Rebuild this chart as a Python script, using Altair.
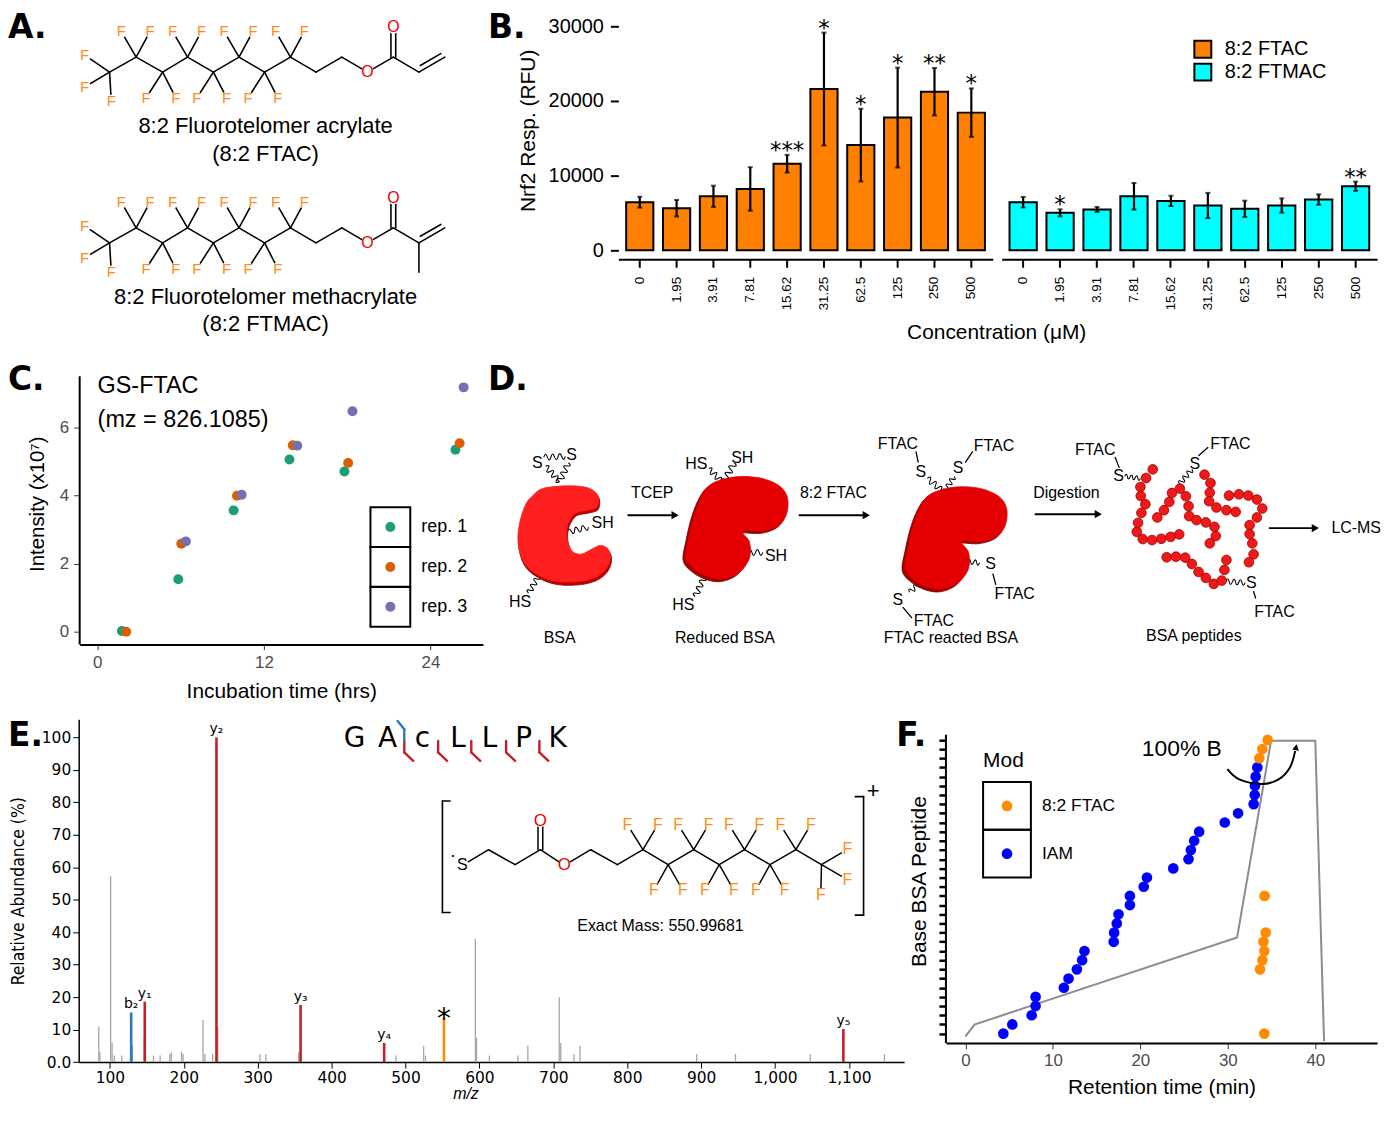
import math
import altair as alt
import pandas as pd

SANS = "Liberation Sans, Arial, Helvetica, sans-serif"
DV = "DejaVu Sans, Verdana, sans-serif"
NARROW = "Liberation Sans Narrow, DejaVu Sans Condensed, sans-serif"
F_OR = "#FF8C1A"
O_RED = "#EE0000"

# ======================= DATA =======================
# ---- Panel B : Nrf2 response ----
conc_labels = ["0", "1.95", "3.91", "7.81", "15.62", "31.25", "62.5", "125", "250", "500"]
ftac_mean = [6440, 5640, 7240, 8220, 11600, 21600, 14090, 17780, 21240, 18440]
ftac_sd = [730, 1110, 1420, 2910, 1180, 7560, 4870, 6690, 3180, 3240]
ftac_sig = ["", "", "", "", "***", "*", "*", "*", "**", "*"]
ftmac_mean = [6440, 5020, 5470, 7240, 6620, 6000, 5560, 6000, 6800, 8580]
ftmac_sd = [710, 470, 330, 1780, 690, 1690, 1090, 960, 690, 620]
ftmac_sig = ["", "*", "", "", "", "", "", "", "", "**"]
series_names = ["8:2 FTAC", "8:2 FTMAC"]
series_colors = ["#FF8000", "#00FFFF"]

# ---- Panel C : GS-FTAC intensity ----
rep_names = ["rep. 1", "rep. 2", "rep. 3"]
rep_colors = ["#1B9E77", "#D95F02", "#7570B3"]
rep1_t = [1.77, 5.83, 9.82, 13.84, 17.80, 25.80]
rep1_i = [0.02, 1.54, 3.56, 5.05, 4.70, 5.34]
rep2_t = [2.08, 6.05, 10.06, 14.08, 18.07, 26.10]
rep2_i = [0.00, 2.58, 3.99, 5.47, 4.95, 5.53]
rep3_t = [6.38, 10.40, 14.40, 18.38, 26.39]
rep3_i = [2.65, 4.02, 5.46, 6.47, 7.17]

# ---- Panel E : MS/MS spectrum ----
grey_mz = [85, 86.5, 101, 103, 106, 116, 130.5, 146.5, 159, 168, 181, 183, 197, 199, 226, 228.5,
           239, 246, 303, 311, 355.5, 487, 524.5, 527, 594.5, 596, 613.5, 652, 665.5, 708, 710,
           728, 736, 894, 946.5, 1047.5, 1148]
grey_int = [11, 3, 57.3, 6, 2, 2, 5, 7.5, 2, 2, 2.5, 3, 3.3, 2.5, 13, 2.5,
            2.5, 11, 2.5, 2.5, 3, 2, 5, 2, 38, 7.5, 2, 2, 5, 20, 6,
            2.5, 5, 2.5, 2.5, 2.5, 2.5]
ann_mz = [128.8, 147.2, 244.2, 358.0, 471.1, 552.0, 1092.4]
ann_int = [15.3, 18.6, 100.0, 17.6, 5.9, 13.8, 10.2]
ann_lab = ["b₂", "y₁", "y₂", "y₃", "y₄", "*", "y₅"]
ann_kind = ["b", "y", "y", "y", "y", "mod", "y"]

# ---- Panel F : retention times ----
iam_rt = [4.33, 5.36, 7.57, 8.02, 8.02, 11.25, 11.79, 12.74, 13.34, 13.61, 16.95, 17.0, 17.3, 17.5,
          18.8, 18.8, 20.38, 20.75, 23.76, 25.5, 25.77, 26.15, 26.72, 29.65, 31.17, 32.95, 33.07,
          33.1, 33.18, 33.37]
iam_row = [0, 1, 2, 3, 4, 5, 6, 7, 8, 9, 10, 11, 12, 13, 14, 15, 16, 17, 18, 19, 20, 21, 22, 23,
           24, 25, 26, 27, 28, 29]
ftac_rt = [34.17, 33.68, 33.95, 34.17, 34.07, 34.33, 34.2, 33.6, 33.95, 34.55]
ftac_row = [0, 7, 8, 9, 10, 11, 15, 30, 31, 32]
grad_t = [0, 1.03, 31.06, 34.94, 40.0, 41.0]
grad_v = [-0.3, 0.98, 10.48, 31.9, 31.9, -0.83]
arc_t = [29.95, 31.3, 33.9, 35.8, 37.1, 37.7]
arc_v = [28.8, 27.7, 27.2, 27.7, 29.0, 30.8]
mods = ["8:2 FTAC", "IAM"]
mod_colors = ["#FF8C00", "#0000FF"]

# ---- Panel A : structures (page-pixel diagram coordinates) ----
chain_x = [110, 136.7, 163.3, 188.3, 214.3, 240, 265.7, 291.7, 317.3, 343.3, 369, 395, 420.7, 446.7]
ftac_chain_y = [70, 55, 70, 55, 70, 55, 70, 55, 70, 55, 70, 55, 70, 55]
ftmac_chain_y = [241.5, 226.5, 241.5, 226.5, 241.5, 226.5, 241.5, 226.5, 241.5, 226.5, 241.5,
                 226.5, 241.5, 226.5]
ftac_carbonyl_o = 25
ftmac_carbonyl_o = 196.5
ftmac_methyl_end = 271
a_names = [("8:2 Fluorotelomer acrylate", 266.7, 124), ("(8:2 FTAC)", 266.7, 152),
           ("8:2 Fluorotelomer methacrylate", 266.7, 296), ("(8:2 FTMAC)", 266.7, 323)]

# ---- Panel E inset structure ----
ins_x = [464.3, 490.7, 517.3, 542.7, 566.7, 593.3, 620, 645.7, 671, 696.7, 722.3, 747.7, 773.3, 799.3, 825]
ins_y = [866.7, 851, 866, 851, 866.7, 851, 866, 851, 866, 851, 866, 851, 866, 851, 866]
ins_carbonyl_o = 821.7
pep_letters = ["G", "A", "c", "L", "L", "P", "K"]
pep_x = [356, 389.3, 424.3, 460, 491.7, 526, 560]
y_cuts = [406, 440, 473.3, 508.3, 541.7]
b_cuts = [406]

# ---- Panel D : scheme ----
bsa_x = [544.8, 569, 589.7, 600, 601, 598.3, 589.7, 577.6, 570.7, 569, 570.7, 575.9, 584.5, 594.8,
         603.4, 611, 613.1, 609.7, 600, 582.8, 558.6, 539.7, 525.9, 520, 521.4, 527.6, 534.5]
bsa_y = [487.9, 485.2, 486.9, 493.8, 502.4, 507.6, 510, 512.8, 523.1, 533.4, 543.8, 552.4, 554.1, 549,
         545.5, 549, 557.6, 567.9, 576.6, 581.7, 581.7, 574.8, 562.8, 543.8, 523.1, 504.1, 495.5]
rbsa_x = [686.2, 689, 694.8, 701.7, 710.3, 724.1, 741.4, 762.1, 779.3, 787.9, 789, 784.5, 775.9,
          762.1, 743.1, 750, 751, 746.6, 737.9, 724.1, 710.3, 696.6]
rbsa_y = [561, 540.3, 516.2, 499, 486.9, 481, 478.3, 480, 486.9, 497.2, 511, 523.1, 530, 533.4,
          533.4, 543.8, 557.6, 567.9, 576.6, 581.7, 580, 573.1]
fbsa_shift = (220, 10.3)
bead_x = [1157.7, 1151, 1145.3, 1145.7, 1150.3, 1146.3, 1143, 1141.7, 1147.7, 1157, 1166.3, 1175.7, 1184.3,
          1185, 1177, 1174.3, 1169, 1162.3, 1191, 1193.7, 1194.3, 1201.7, 1211, 1219.7, 1221, 1215,
          1209.7, 1215.7, 1215, 1214.3, 1221.7, 1231.7, 1241, 1234.3, 1244.3, 1253.7, 1262.3, 1267.7,
          1262.3, 1255, 1255, 1257.7, 1259, 1254.3,
          1171.7, 1181, 1190.3, 1197, 1203.7, 1211, 1219, 1227, 1229.7, 1231.7]
bead_y = [469, 477.7, 486.7, 495.7, 504, 512.7, 522.7, 531.7, 539, 540, 538.7, 536.7, 534.3,
          488.3, 492.7, 501.7, 510, 517.3, 496, 506, 516, 520, 522.3, 526.7, 536, 543.3,
          474.3, 482.7, 492.3, 501, 507.3, 510, 511.7, 495.3, 494, 495.3, 499.3, 508.3,
          517.3, 525, 534, 543.3, 554.3, 562.3,
          557.3, 556.7, 557.7, 564, 572, 578, 584, 580.7, 570, 560]
squiggles = [(546.6, 456.9, 567.2, 455.9), (548.3, 466.2, 561.4, 481), (570.7, 462.8, 562.1, 481),
             (570.7, 531.7, 590.3, 527.2), (540.7, 576.6, 531, 592.8),
             (712.1, 468.6, 725.9, 482.4), (737.2, 462.8, 726.6, 481.7), (744.8, 552.4, 765.5, 552.4),
             (706.9, 577.6, 698.3, 596.2),
             (931.7, 478.3, 947.6, 491.4), (957.9, 476.6, 948.3, 491.4), (966.2, 561, 983.4, 562.8),
             (927.6, 580, 913.8, 592.1),
             (1130, 476, 1145, 478), (1196.7, 469.3, 1185, 483.3), (1231.7, 581.7, 1250, 582.7)]
d_lines = [(920, 451.4, 922.1, 461.7), (976.6, 451.4, 969.7, 461.7), (997.2, 574.1, 1000, 584.5),
           (906.9, 607.6, 915.5, 617.9), (1120, 457, 1124, 467), (1204, 455, 1213, 447),
           (1259, 591.7, 1261, 598.3)]
d_arrows = [(631, 515, 678), (803, 515, 870), (1040, 514, 1103), (1275, 528, 1321)]
d_labels = [("S", 539.7, 462.8), ("S", 574.1, 454.8), ("SH", 605.2, 523.1), ("HS", 522.4, 602.4),
            ("HS", 699.3, 463.8), ("SH", 745.5, 457.6), ("SH", 779.3, 555.9), ("HS", 686.2, 604.8),
            ("FTAC", 901.7, 443.1), ("S", 924.8, 471.4), ("FTAC", 998.3, 445.5), ("S", 962.1, 467.9),
            ("S", 994.8, 564.5), ("FTAC", 1019, 593.8), ("S", 901.7, 600.7), ("FTAC", 937.9, 621.4),
            ("FTAC", 1100, 449.3), ("S", 1123.3, 476), ("S", 1200, 463.3), ("FTAC", 1235.7, 443.3),
            ("S", 1256.7, 583.3), ("FTAC", 1280, 612.3),
            ("TCEP", 655, 493), ("8:2 FTAC", 837, 493), ("Digestion", 1071, 493), ("LC-MS", 1362, 528),
            ("BSA", 562, 638), ("Reduced BSA", 728, 638), ("FTAC reacted BSA", 955, 638),
            ("BSA peptides", 1199, 636)]


# ======================= HELPERS =======================
def canvas_scales(x0, x1, y0, y1):
    return (alt.Scale(domain=[x0, x1], nice=False, zero=False),
            alt.Scale(domain=[y0, y1], nice=False, zero=False, reverse=True))


def exy(xs, ys):
    return dict(x=alt.X("x:Q", scale=xs, axis=None), y=alt.Y("y:Q", scale=ys, axis=None))


def rules(segs, xs, ys):
    df = pd.DataFrame(segs, columns=["x", "y", "x2", "y2", "c", "w"])
    return alt.Chart(df).mark_rule(strokeCap="round").encode(
        **exy(xs, ys), x2="x2:Q", y2="y2:Q",
        color=alt.Color("c:N", scale=None), strokeWidth=alt.StrokeWidth("w:Q", scale=None))


def texts(items, xs, ys, font=SANS, align="center", baseline="middle", weight="normal", style="normal"):
    df = pd.DataFrame(items, columns=["x", "y", "t", "c", "s"])
    return alt.Chart(df).mark_text(font=font, align=align, baseline=baseline,
                                   fontWeight=weight, fontStyle=style).encode(
        **exy(xs, ys), text="t:N", color=alt.Color("c:N", scale=None), size=alt.Size("s:Q", scale=None))


def disks(pts, xs, ys, r=150):
    df = pd.DataFrame([(p[0], p[1], r) for p in pts], columns=["x", "y", "r"])
    return alt.Chart(df).mark_circle(color="white", opacity=1).encode(
        **exy(xs, ys), size=alt.Size("r:Q", scale=None))


def smooth_path(xs, ys):
    x0, x1, y0, y1 = min(xs), max(xs), min(ys), max(ys)
    cx, cy = (x0 + x1) / 2, (y0 + y1) / 2
    half = max(x1 - x0, y1 - y0) / 2
    P = [((x - cx) / half, (y - cy) / half) for x, y in zip(xs, ys)]
    n = len(P)
    d = "M%.4f,%.4f" % P[0]
    for i in range(n):
        p0, p1, p2, p3 = P[(i - 1) % n], P[i], P[(i + 1) % n], P[(i + 2) % n]
        c1 = (p1[0] + (p2[0] - p0[0]) / 6, p1[1] + (p2[1] - p0[1]) / 6)
        c2 = (p2[0] - (p3[0] - p1[0]) / 6, p2[1] - (p3[1] - p1[1]) / 6)
        d += "C%.4f,%.4f %.4f,%.4f %.4f,%.4f" % (c1 + c2 + p2)
    return d + "Z", cx, cy, (2 * half) ** 2


# ======================= PANEL A =======================
def molecule(bx, by, o_top, methyl_end=None):
    segs, fpos = [], []
    for i in range(13):
        segs.append((bx[i], by[i], bx[i + 1], by[i + 1], "black", 1.6))
    segs.append((bx[12] + 3.9 - 2.5, by[12] - 2.2 - 4.4, bx[13] - 2.5 - 1.5, by[13] - 4.4 + 0.9, "black", 1.6))
    segs.append((bx[11] - 2.4, by[11], bx[11] - 2.4, o_top, "black", 1.6))
    segs.append((bx[11] + 2.4, by[11], bx[11] + 2.4, o_top, "black", 1.6))
    if methyl_end is not None:
        segs.append((bx[12], by[12], bx[12], methyl_end, "black", 1.6))
    for dx, dy in [(-25, -17), (-25, 15), (1.7, 29)]:
        fpos.append((bx[0] + dx, by[0] + dy, 0))
    for i in [1, 3, 5, 7]:
        for dx in (-15, 14):
            fpos.append((bx[i] + dx, by[i] - 26, i))
    for i in [2, 4, 6]:
        for dx in (-16.7, 13.3):
            fpos.append((bx[i] + dx, by[i] + 26, i))
    for fx, fy, i in fpos:
        segs.append((bx[i], by[i], fx, fy, "black", 1.6))
    olab = [(bx[10], by[10]), (bx[11], o_top)]
    return segs, [(f[0], f[1]) for f in fpos], olab


axs, ays = canvas_scales(8, 612, 8, 352)
s1, f1, o1 = molecule(chain_x, ftac_chain_y, ftac_carbonyl_o)
s2, f2, o2 = molecule(chain_x, ftmac_chain_y, ftmac_carbonyl_o, ftmac_methyl_end)
a_f = f1 + f2
a_o = o1 + o2
panel_a = alt.layer(
    rules(s1 + s2, axs, ays),
    disks(a_f + a_o, axs, ays, 160),
    texts([(x, y, "F", F_OR, 15) for x, y in a_f], axs, ays),
    texts([(x, y, "O", O_RED, 16) for x, y in a_o], axs, ays),
    texts([(x, y, t, "black", 22) for t, x, y in a_names], axs, ays),
    texts([(8, 26, "A.", "black", 33), (490, 26, "B.", "black", 33)], axs, ays,
          font=DV, align="left", weight="bold"),
).properties(width=604, height=344)


# ======================= PANEL B =======================
def b_panel(means, sds, sigs, name, first):
    bars = pd.DataFrame({"x": conc_labels, "y": means, "s": [name] * len(means)})
    err = pd.DataFrame({"x": conc_labels, "y": [m - s for m, s in zip(means, sds)],
                        "y2": [m + s for m, s in zip(means, sds)]})
    lo = pd.DataFrame({"x": conc_labels, "y": [m - s for m, s in zip(means, sds)]})
    hi = pd.DataFrame({"x": conc_labels, "y": [m + s for m, s in zip(means, sds)], "t": sigs})
    xenc = alt.X("x:N", sort=conc_labels,
                 scale=alt.Scale(paddingInner=0.262, paddingOuter=0.212),
                 axis=alt.Axis(title=None, labelAngle=270, offset=9, domainWidth=2, tickWidth=2,
                               tickSize=8, labelFontSize=13.5, labelPadding=9, labelFont=SANS))
    if first:
        yax = alt.Axis(values=[0, 10000, 20000, 30000], format="d", domain=False, tickSize=8,
                       tickWidth=2, labelFontSize=20, labelPadding=7, title="Nrf2 Resp. (RFU)",
                       titleFontSize=21, titlePadding=10)
        leg = None
    else:
        yax = None
        leg = alt.Legend(orient="none", legendX=192, legendY=29, title=None, symbolType="square",
                         symbolSize=289, symbolStrokeColor="black", symbolStrokeWidth=2,
                         labelFontSize=20, labelFont=SANS, labelOffset=12, rowPadding=-6, padding=0,
                         labelColor="black")
    yenc = alt.Y("y:Q", scale=alt.Scale(domain=[0, 32133], nice=False, zero=False), axis=yax)
    layers = [
        alt.Chart(bars).mark_bar(stroke="black", strokeWidth=2).encode(
            x=xenc, y=yenc,
            color=alt.Color("s:N", scale=alt.Scale(domain=series_names, range=series_colors), legend=leg)),
        alt.Chart(err).mark_rule(color="black", strokeWidth=2.2).encode(x=xenc, y=yenc, y2="y2:Q"),
        alt.Chart(lo).mark_tick(color="black", thickness=2, size=5).encode(x=xenc, y=yenc),
        alt.Chart(hi).mark_tick(color="black", thickness=2, size=5).encode(x=xenc, y=yenc),
        alt.Chart(hi).mark_text(font=DV, fontSize=23, baseline="alphabetic", dy=3).encode(
            x=xenc, y=yenc, text="t:N"),
    ]
    if not first:
        layers.append(alt.Chart(pd.DataFrame({"t": ["Concentration (μM)"]})).mark_text(
            font=SANS, fontSize=21, align="center", baseline="middle").encode(
            text="t:N", x=alt.value(-5), y=alt.value(324)))
    return alt.layer(*layers).properties(width=376 if first else 377, height=241)


panel_b1 = b_panel(ftac_mean, ftac_sd, ftac_sig, series_names[0], True)
panel_b2 = b_panel(ftmac_mean, ftmac_sd, ftmac_sig, series_names[1], False)

# ======================= PANEL C =======================
c_pts = pd.DataFrame({
    "x": rep1_t + rep2_t + rep3_t,
    "y": rep1_i + rep2_i + rep3_i,
    "rep": [rep_names[0]] * len(rep1_t) + [rep_names[1]] * len(rep2_t) + [rep_names[2]] * len(rep3_t)})
c_xs = alt.Scale(domain=[-1.27, 27.78], nice=False, zero=False)
cx_enc = alt.X("x:Q", scale=c_xs,
               axis=alt.Axis(values=[0, 12, 24], title="Incubation time (hrs)", labelColor="#4D4D4D",
                             tickColor="#333333", labelFontSize=17, tickSize=5, domainWidth=2,
                             labelPadding=5, titleFontSize=21, titlePadding=10))
cy_enc = alt.Y("y:Q", scale=alt.Scale(domain=[-0.38, 7.89], nice=False, zero=False),
               axis=alt.Axis(values=[0, 2, 4, 6], title="Intensity (x10⁷)", labelColor="#4D4D4D",
                             tickColor="#333333", labelFontSize=17, tickSize=6, domain=False,
                             labelPadding=5, titleFontSize=20.5, titlePadding=12))
c_color = alt.Color("rep:N", scale=alt.Scale(domain=rep_names, range=rep_colors), legend=None)
c_leg = pd.DataFrame({"x": [21.11] * 3, "y": [3.07, 1.90, 0.73], "rep": rep_names,
                      "lx": [23.34] * 3})
panel_c = alt.layer(
    alt.Chart(pd.DataFrame({"x": [-1.27], "y": [-0.38], "y2": [7.5]})).mark_rule(
        color="black", strokeWidth=2).encode(x=cx_enc, y=cy_enc, y2="y2:Q"),
    alt.Chart(c_pts).mark_circle(size=100, opacity=1).encode(x=cx_enc, y=cy_enc, color=c_color),
    alt.Chart(c_leg).mark_point(shape="square", size=1600, filled=False, color="black",
                                strokeWidth=2, opacity=1).encode(x=cx_enc, y=cy_enc),
    alt.Chart(c_leg).mark_circle(size=100, opacity=1).encode(x=cx_enc, y=cy_enc, color=c_color),
    alt.Chart(c_leg).mark_text(font=SANS, fontSize=18, align="left", baseline="middle").encode(
        x=alt.X("lx:Q", scale=c_xs), y=cy_enc, text="rep:N"),
    alt.Chart(pd.DataFrame({"x": [0.02, 0.02], "y": [7.22, 6.2], "t": ["GS-FTAC", "(mz = 826.1085)"]}))
    .mark_text(font=SANS, fontSize=23.5, align="left", baseline="middle").encode(
        x=cx_enc, y=cy_enc, text="t:N"),
).properties(width=405, height=283)

# ======================= PANEL D =======================
dxs, dys = canvas_scales(490, 1398, 362, 710)
shape_rows = []
for xs_, ys_, dark, light, ddx, ddy, lx, ly in [
        (bsa_x, bsa_y, "#C40000", "#FF1F1F", 1, 3, 0, 0),
        (rbsa_x, rbsa_y, "#A30000", "#E40000", 0, 0, 2.5, -2.5),
        ([v + fbsa_shift[0] for v in rbsa_x], [v + fbsa_shift[1] for v in rbsa_y],
         "#A30000", "#E40000", 0, 0, 2.5, -2.5)]:
    p, cx, cy, sz = smooth_path(xs_, ys_)
    shape_rows.append((cx + ddx, cy + ddy, p, sz, dark, "#7A0000"))
    shape_rows.append((cx + lx, cy + ly, p, sz * 0.985, light, light))
shape_df = pd.DataFrame(shape_rows, columns=["x", "y", "p", "sz", "f", "k"])

wave = "M-1,0 Q-0.833,-0.55 -0.667,0 T-0.333,0 T0,0 T0.333,0 T0.667,0 T1,0"
sq_df = pd.DataFrame([((a + c) / 2, (b + d) / 2, (math.hypot(c - a, d - b) * 1.05) ** 2,
                       math.degrees(math.atan2(d - b, c - a)) % 360) for a, b, c, d in squiggles],
                     columns=["x", "y", "sz", "ang"])
d_segs = [(a, b, c, d, "black", 1.3) for a, b, c, d in d_lines] + \
         [(a, y, b - 4, y, "black", 2) for a, y, b in d_arrows]
heads = pd.DataFrame([(b, y) for a, y, b in d_arrows], columns=["x", "y"])
beads = pd.DataFrame({"x": bead_x, "y": bead_y})

panel_d = alt.layer(
    rules(d_segs, dxs, dys),
    alt.Chart(sq_df).mark_point(shape=wave, filled=False, stroke="black", strokeWidth=1.1, opacity=1).encode(
        **exy(dxs, dys), size=alt.Size("sz:Q", scale=None), angle=alt.Angle("ang:Q", scale=None)),
    alt.Chart(heads).mark_point(shape="triangle-right", filled=True, color="black", size=70, opacity=1).encode(
        **exy(dxs, dys)),
    alt.Chart(shape_df).mark_point(filled=True, opacity=1, strokeWidth=0.8).encode(
        **exy(dxs, dys), shape=alt.Shape("p:N", scale=None), size=alt.Size("sz:Q", scale=None),
        fill=alt.Fill("f:N", scale=None), stroke=alt.Stroke("k:N", scale=None)),
    alt.Chart(beads).mark_circle(size=95, fill="#F01818", stroke="#A00000", strokeWidth=0.8, opacity=1).encode(
        **exy(dxs, dys)),
    texts([(x, y, t, "black", 16) for t, x, y in d_labels], dxs, dys),
    texts([(490, 379, "D.", "black", 33)], dxs, dys, font=DV, align="left", weight="bold"),
).properties(width=908, height=348)

# ======================= PANEL E =======================
e_x = alt.X("x:Q", scale=alt.Scale(domain=[57.8, 1174.6], nice=False, zero=False),
            axis=alt.Axis(values=[100, 200, 300, 400, 500, 600, 700, 800, 900, 1000, 1100], format=",d",
                          title=None, labelFont=DV, labelFontSize=15.5, tickSize=6, labelPadding=2,
                          domainWidth=1.5))
e_y = alt.Y("y:Q", scale=alt.Scale(domain=[0, 105.6], nice=False, zero=False),
            axis=alt.Axis(values=[0, 10, 20, 30, 40, 50, 60, 70, 80, 90, 100],
                          labelExpr="datum.value == 0 ? '0.0' : datum.label", labelFont=DV,
                          labelFontSize=15.5, tickSize=6, labelPadding=2, domainWidth=1.5,
                          title="Relative Abundance (%)", titleFont=NARROW, titleFontSize=17.5,
                          titlePadding=14))
grey_df = pd.DataFrame({"x": grey_mz, "y": [0] * len(grey_mz), "y2": grey_int})
ann_df = pd.DataFrame({"x": ann_mz, "y": [0] * len(ann_mz), "y2": ann_int, "k": ann_kind})
lab_df = pd.DataFrame({"x": ann_mz, "y": ann_int, "t": ann_lab, "k": ann_kind})
kcol = alt.Color("k:N", scale=alt.Scale(domain=["b", "y", "mod"], range=["#2A7AC0", "#C41E2A", "#FF8C00"]),
                 legend=None)
spec = alt.layer(
    alt.Chart(grey_df).mark_rule(color="#A6A6A6", strokeWidth=1.3).encode(x=e_x, y=e_y, y2="y2:Q"),
    alt.Chart(ann_df).mark_rule(strokeWidth=2.6).encode(x=e_x, y=e_y, y2="y2:Q", color=kcol),
    alt.Chart(lab_df).transform_filter("datum.k != 'mod'").mark_text(
        font=DV, fontSize=14, baseline="bottom", dy=-1).encode(x=e_x, y=e_y, text="t:N"),
    alt.Chart(lab_df).transform_filter("datum.k == 'mod'").mark_text(
        font=DV, fontSize=28, baseline="alphabetic", dy=11).encode(x=e_x, y=e_y, text="t:N"),
)

exs, eys = canvas_scales(79, 908, 720, 1064.3)
e_segs = []
for i in range(len(ins_x) - 1):
    e_segs.append((ins_x[i], ins_y[i], ins_x[i + 1], ins_y[i + 1], "black", 1.5))
e_segs.append((ins_x[3] - 2.4, ins_y[3], ins_x[3] - 2.4, ins_carbonyl_o, "black", 1.5))
e_segs.append((ins_x[3] + 2.4, ins_y[3], ins_x[3] + 2.4, ins_carbonyl_o, "black", 1.5))
e_f = []
for i in [7, 9, 11, 13]:
    for dx in (-15.7, 15):
        e_f.append((ins_x[i] + dx, ins_y[i] - 25.3, i))
for i in [8, 10, 12]:
    for dx in (-14.3, 14.7):
        e_f.append((ins_x[i] + dx, ins_y[i] + 25.7, i))
for dx, dy in [(26, -15.3), (26, 15), (-0.7, 30)]:
    e_f.append((ins_x[14] + dx, ins_y[14] + dy, 14))
for fx, fy, i in e_f:
    e_segs.append((ins_x[i], ins_y[i], fx, fy, "black", 1.5))
e_segs += [(452, 802, 444.3, 802, "black", 1.6), (444.3, 802, 444.3, 914, "black", 1.6),
           (444.3, 914, 452, 914, "black", 1.6), (859, 797.7, 867.3, 797.7, "black", 1.6),
           (867.3, 797.7, 867.3, 916.7, "black", 1.6), (867.3, 916.7, 859, 916.7, "black", 1.6)]
for xm in y_cuts:
    e_segs += [(xm, 741.7, xm, 753.3, "#C41E2A", 2.4), (xm, 753.3, xm + 9, 761.7, "#C41E2A", 2.4)]
for xm in b_cuts:
    e_segs += [(xm, 741.7, xm, 730, "#2A7AC0", 2.4), (xm, 730, xm - 6.7, 721.7, "#2A7AC0", 2.4)]
e_atoms_o = [(ins_x[4], ins_y[4]), (ins_x[3], ins_carbonyl_o)]
e_atom_s = [(ins_x[0], ins_y[0])]
canvas_e = alt.layer(
    rules(e_segs, exs, eys),
    disks([(f[0], f[1]) for f in e_f] + e_atoms_o + e_atom_s, exs, eys, 170),
    texts([(f[0], f[1], "F", F_OR, 16) for f in e_f], exs, eys),
    texts([(x, y, "O", O_RED, 17) for x, y in e_atoms_o], exs, eys),
    texts([(x, y, "S", "black", 16) for x, y in e_atom_s] +
          [(455, 857, "·", "black", 18), (877, 792, "+", "black", 22),
           (663.3, 927.3, "Exact Mass: 550.99681", "black", 16)], exs, eys),
    texts([(x, 740, t, "black", 28) for t, x in zip(pep_letters, pep_x)], exs, eys, font=DV),
    texts([(468, 1096, "m/z", "black", 16)], exs, eys, style="italic"),
    texts([(900, 737, "F.", "black", 33)], exs, eys, font=DV, align="left", weight="bold"),
)
panel_e = alt.layer(spec, canvas_e).resolve_scale(x="independent", y="independent").properties(
    width=829, height=344.3)

# ======================= PANEL F =======================
f_xs = alt.Scale(domain=[-2.23, 47.06], nice=False, zero=False)
f_x = alt.X("x:Q", scale=f_xs,
            axis=alt.Axis(values=[0, 10, 20, 30, 40], title="Retention time (min)", labelColor="#4D4D4D",
                          tickColor="#333333", labelFontSize=17, tickSize=6, domainWidth=2, labelPadding=4,
                          titleFontSize=21, titlePadding=8))
f_y = alt.Y("y:Q", scale=alt.Scale(domain=[-1.01, 34.24], nice=False, zero=False),
            axis=alt.Axis(values=list(range(33)), labels=False, domain=False, tickSize=7, tickWidth=2.5,
                          tickColor="black", title="Base BSA Peptide", titleFontSize=21, titlePadding=8))
f_color = alt.Color("m:N", scale=alt.Scale(domain=mods, range=mod_colors), legend=None)
f_pts = pd.DataFrame({"x": iam_rt + ftac_rt, "y": iam_row + ftac_row,
                      "m": ["IAM"] * len(iam_rt) + ["8:2 FTAC"] * len(ftac_rt)})
f_grad = pd.DataFrame({"x": grad_t, "y": grad_v, "o": list(range(len(grad_t)))})
f_arc = pd.DataFrame({"x": arc_t, "y": arc_v, "o": list(range(len(arc_t)))})
f_leg = pd.DataFrame({"x": [4.75, 4.75], "y": [24.8, 19.6], "m": mods, "lx": [8.75, 8.75]})
panel_f = alt.layer(
    alt.Chart(pd.DataFrame({"x": [-2.23], "y": [-1.01], "y2": [32.55]})).mark_rule(
        color="black", strokeWidth=2).encode(x=f_x, y=f_y, y2="y2:Q"),
    alt.Chart(f_grad).mark_line(color="#8C8C8C", strokeWidth=2).encode(x=f_x, y=f_y, order="o:Q"),
    alt.Chart(f_pts).mark_circle(size=115, opacity=1).encode(x=f_x, y=f_y, color=f_color),
    alt.Chart(f_arc).mark_line(color="black", strokeWidth=2, interpolate="cardinal").encode(
        x=f_x, y=f_y, order="o:Q"),
    alt.Chart(pd.DataFrame({"x": [37.8], "y": [31.2]})).mark_point(
        shape="triangle-up", filled=True, color="black", size=45, opacity=1, angle=10).encode(x=f_x, y=f_y),
    alt.Chart(f_leg).mark_point(shape="square", size=2304, filled=False, color="black", strokeWidth=2,
                                opacity=1).encode(x=f_x, y=f_y),
    alt.Chart(f_leg).mark_circle(size=115, opacity=1).encode(x=f_x, y=f_y, color=f_color),
    alt.Chart(f_leg).mark_text(font=SANS, fontSize=17.5, align="left", baseline="middle").encode(
        x=alt.X("lx:Q", scale=f_xs), y=f_y, text="m:N"),
    alt.Chart(pd.DataFrame({"x": [2.02, 20.15], "y": [29.7, 31.0], "t": ["Mod", "100% B"],
                            "s": [21, 23]})).mark_text(font=SANS, align="left", baseline="middle").encode(
        x=f_x, y=f_y, text="t:N", size=alt.Size("s:Q", scale=None)),
).properties(width=433, height=325)


# ======================= LAYOUT =======================
def spacer(label, w, y):
    return alt.Chart(pd.DataFrame({"t": [label]})).mark_text(
        font=DV, fontSize=33, fontWeight="bold", align="left", baseline="middle").encode(
        text="t:N", x=alt.value(0), y=alt.value(y)).properties(width=w, height=20)


row1 = alt.hconcat(panel_a, panel_b1, panel_b2, spacing=9, bounds="flush").resolve_scale(
    color="independent").resolve_legend(color="independent")
row2 = alt.hconcat(spacer("C.", 67, 17), panel_c, panel_d, spacing=5, bounds="flush").resolve_scale(
    color="independent").resolve_legend(color="independent")
row3 = alt.hconcat(spacer("E.", 29, 17), panel_e, panel_f, spacing=42, bounds="flush").resolve_scale(
    color="independent").resolve_legend(color="independent")

chart = alt.vconcat(row1, row2, row3, spacing=10).resolve_scale(
    color="independent").resolve_legend(color="independent").properties(padding=0).configure_view(
    stroke=None).configure_axis(
    grid=False, labelFont=SANS, titleFont=SANS, titleFontWeight="normal", labelColor="black",
    titleColor="black", domainColor="black", tickColor="black")

chart.save("out.html", embed_options={"renderer": "svg", "actions": False})
